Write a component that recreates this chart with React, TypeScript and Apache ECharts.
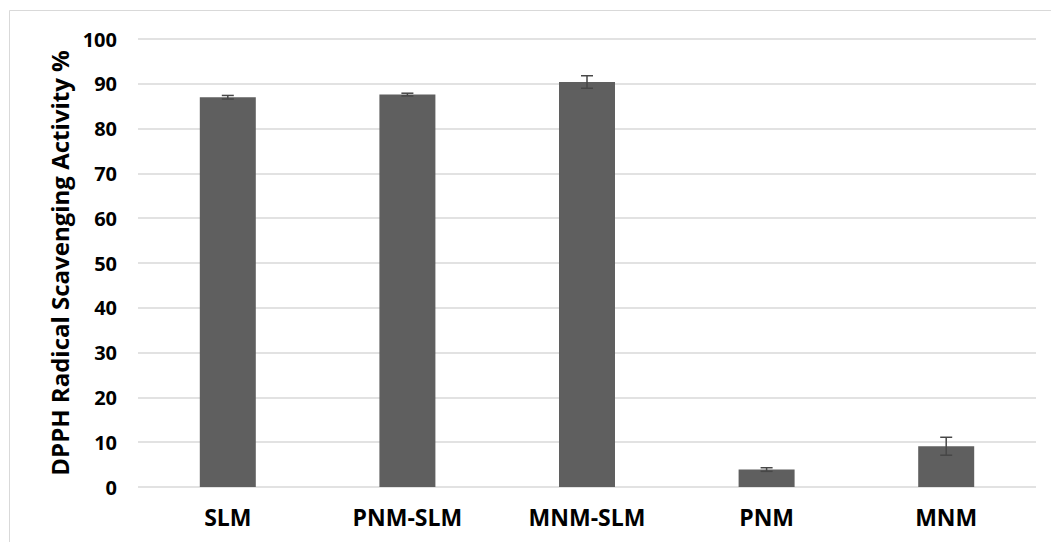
import React, { useEffect, useRef } from "react";
import * as echarts from "echarts";

const categories = ["SLM", "PNM-SLM", "MNM-SLM", "PNM", "MNM"];
const values = [87.0, 87.6, 90.4, 3.9, 9.1];
const errors = [0.4, 0.3, 1.4, 0.4, 2.0];
const yTicks = { min: 0, max: 100, interval: 10 };

export default function App() {
  const ref = useRef<HTMLDivElement>(null);
  useEffect(() => {
    if (!ref.current) return;
    const chart = echarts.init(ref.current, null, { renderer: "svg" });
    const font = "'Open Sans', 'Noto Sans', sans-serif";
    chart.setOption({
      animation: false,
      backgroundColor: "#ffffff",
      grid: { left: 138, right: 15, top: 39, bottom: 55, containLabel: false },
      graphic: [
        {
          type: "rect",
          shape: { x: 9.5, y: 10.5, width: 1100, height: 600 },
          style: { fill: "none", stroke: "#d9d9d9", lineWidth: 1 },
          silent: true,
          z: -1,
        },
      ],
      xAxis: {
        type: "category",
        data: categories,
        axisLine: { show: false },
        axisTick: { show: false },
        axisLabel: {
          fontFamily: font,
          fontWeight: "bold",
          fontSize: 23,
          color: "#000",
          margin: 18,
        },
      },
      yAxis: {
        type: "value",
        min: yTicks.min,
        max: yTicks.max,
        interval: yTicks.interval,
        name: "DPPH Radical Scavenging Activity %",
        nameLocation: "middle",
        nameGap: 65,
        nameTextStyle: {
          fontFamily: font,
          fontWeight: "bold",
          fontSize: 24,
          color: "#000",
        },
        axisLine: { show: false },
        axisTick: { show: false },
        splitLine: { lineStyle: { color: "#d9d9d9", width: 1.5 } },
        axisLabel: {
          fontFamily: font,
          fontWeight: "bold",
          fontSize: 20,
          color: "#000",
          margin: 21,
        },
      },
      series: [
        {
          type: "bar",
          data: values,
          barWidth: 56,
          itemStyle: { color: "#5f5f5f" },
          z: 2,
        },
        {
          type: "custom",
          z: 3,
          data: values.map((v, i) => [i, v - errors[i], v + errors[i]]),
          renderItem: (params: any, api: any) => {
            const x = api.value(0);
            const lo = api.coord([x, api.value(1)]);
            const hi = api.coord([x, api.value(2)]);
            const hw = 6;
            const style = { stroke: "#474747", lineWidth: 1.5 };
            return {
              type: "group",
              children: [
                { type: "line", shape: { x1: lo[0], y1: lo[1], x2: hi[0], y2: hi[1] }, style },
                { type: "line", shape: { x1: hi[0] - hw, y1: hi[1], x2: hi[0] + hw, y2: hi[1] }, style },
                { type: "line", shape: { x1: lo[0] - hw, y1: lo[1], x2: lo[0] + hw, y2: lo[1] }, style },
              ],
            };
          },
        },
      ],
    });
    return () => chart.dispose();
  }, []);
  return (
    <div
      ref={ref}
      style={{ position: "fixed", left: 0, top: 0, width: 1051, height: 542 }}
    />
  );
}
